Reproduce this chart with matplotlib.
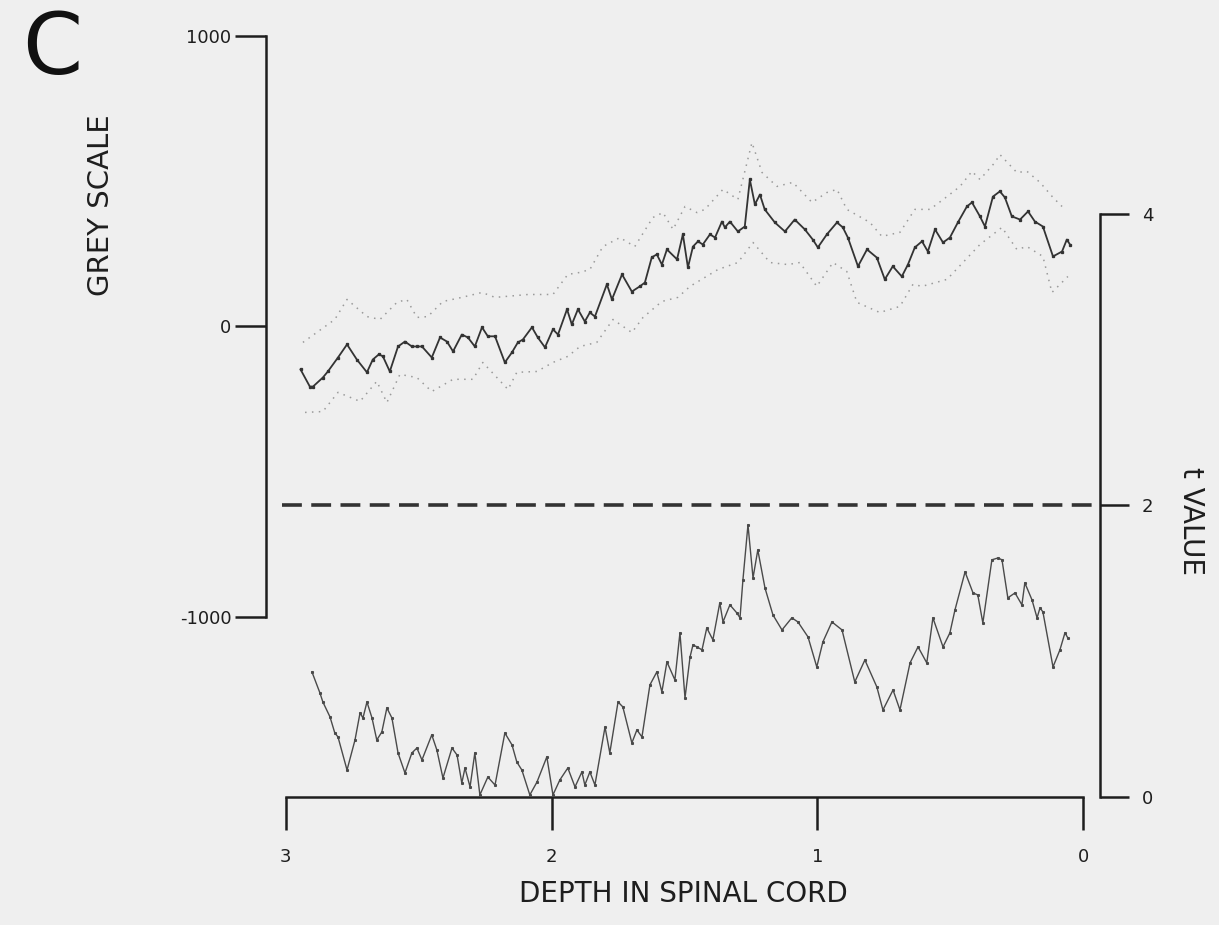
import matplotlib
matplotlib.use("Agg")
import matplotlib.pyplot as plt

plt.rcParams['axes.unicode_minus'] = False

# mean grey scale profile along the cord (left axis)
grey_depth = [2.945, 2.910, 2.898, 2.861, 2.842, 2.804, 2.770, 2.733, 2.695, 2.673,
              2.650, 2.635, 2.609, 2.578, 2.552, 2.526, 2.507, 2.488, 2.451, 2.420,
              2.394, 2.371, 2.338, 2.315, 2.289, 2.262, 2.240, 2.213, 2.176, 2.149,
              2.127, 2.108, 2.074, 2.052, 2.025, 1.995, 1.976, 1.942, 1.924, 1.901,
              1.875, 1.856, 1.837, 1.792, 1.773, 1.735, 1.698, 1.668, 1.649, 1.623,
              1.604, 1.585, 1.566, 1.528, 1.506, 1.487, 1.468, 1.449, 1.431, 1.404,
              1.385, 1.359, 1.348, 1.329, 1.299, 1.273, 1.254, 1.235, 1.216, 1.198,
              1.160, 1.122, 1.085, 1.047, 1.017, 0.998, 0.964, 0.926, 0.904, 0.885,
              0.847, 0.813, 0.776, 0.746, 0.716, 0.682, 0.659, 0.633, 0.606, 0.584,
              0.557, 0.527, 0.501, 0.471, 0.437, 0.418, 0.388, 0.369, 0.339, 0.313,
              0.294, 0.268, 0.237, 0.207, 0.181, 0.151, 0.113, 0.079, 0.061, 0.049]
grey_mean = [-148, -207, -207, -176, -155, -107, -62, -114, -158, -114,
             -96, -103, -155, -69, -52, -69, -69, -69, -107, -38,
             -52, -86, -28, -38, -69, -3, -34, -34, -124, -89,
             -55, -45, -3, -38, -72, -10, -28, 59, 7, 59,
             17, 48, 34, 145, 93, 179, 120, 138, 151, 238,
             248, 213, 265, 231, 317, 203, 275, 293, 282, 317,
             306, 361, 341, 361, 327, 344, 506, 420, 454, 403,
             358, 327, 368, 334, 299, 272, 317, 358, 341, 306,
             207, 265, 237, 162, 207, 172, 213, 272, 293, 258,
             334, 289, 306, 358, 413, 427, 379, 344, 447, 465,
             444, 379, 368, 396, 361, 344, 241, 258, 299, 282]

# upper / lower error envelope (dotted)
upper_depth = [2.936, 2.816, 2.770, 2.695, 2.646, 2.582, 2.545, 2.507, 2.466, 2.409,
               2.338, 2.262, 2.213, 2.089, 1.995, 1.939, 1.893, 1.856, 1.807, 1.743,
               1.687, 1.619, 1.581, 1.543, 1.498, 1.453, 1.423, 1.355, 1.299, 1.246,
               1.208, 1.152, 1.092, 1.020, 0.964, 0.926, 0.889, 0.802, 0.757, 0.689,
               0.633, 0.576, 0.512, 0.463, 0.418, 0.388, 0.332, 0.313, 0.249, 0.211,
               0.162, 0.113, 0.079]
upper_grey = [-55, 24, 93, 34, 24, 83, 93, 31, 34, 86,
              100, 117, 100, 110, 110, 179, 186, 196, 275, 306,
              275, 375, 392, 334, 413, 392, 403, 472, 437, 633,
              530, 482, 496, 427, 461, 472, 403, 358, 310, 324,
              403, 403, 447, 482, 534, 506, 564, 592, 530, 534,
              496, 444, 413]
lower_depth = [2.928, 2.861, 2.804, 2.721, 2.658, 2.620, 2.571, 2.507, 2.451, 2.371,
               2.296, 2.259, 2.164, 2.131, 2.055, 1.995, 1.939, 1.893, 1.830, 1.769,
               1.698, 1.656, 1.585, 1.525, 1.479, 1.374, 1.299, 1.242, 1.178, 1.111,
               1.066, 1.002, 0.941, 0.889, 0.851, 0.765, 0.689, 0.640, 0.606, 0.512,
               0.388, 0.305, 0.249, 0.211, 0.151, 0.117, 0.057]
lower_grey = [-296, -293, -227, -258, -189, -262, -165, -176, -224, -182,
              -182, -124, -217, -158, -155, -124, -103, -69, -55, 24,
              -21, 31, 86, 100, 138, 196, 220, 289, 220, 213,
              220, 138, 220, 189, 83, 48, 69, 145, 138, 162,
              282, 341, 265, 275, 241, 117, 172]

# t value profile (right axis)
t_depth = [2.902, 2.872, 2.861, 2.834, 2.816, 2.804, 2.770, 2.740, 2.721, 2.710,
           2.695, 2.676, 2.658, 2.639, 2.620, 2.601, 2.578, 2.552, 2.526, 2.507,
           2.488, 2.451, 2.432, 2.409, 2.375, 2.356, 2.338, 2.326, 2.307, 2.289,
           2.270, 2.240, 2.213, 2.176, 2.149, 2.131, 2.112, 2.082, 2.055, 2.018,
           1.995, 1.969, 1.939, 1.912, 1.886, 1.875, 1.856, 1.837, 1.799, 1.781,
           1.750, 1.732, 1.698, 1.679, 1.660, 1.630, 1.604, 1.585, 1.566, 1.536,
           1.517, 1.498, 1.479, 1.468, 1.453, 1.434, 1.416, 1.393, 1.367, 1.355,
           1.329, 1.303, 1.291, 1.280, 1.261, 1.242, 1.224, 1.197, 1.167, 1.133,
           1.096, 1.073, 1.035, 1.002, 0.979, 0.945, 0.907, 0.859, 0.821, 0.776,
           0.753, 0.715, 0.689, 0.651, 0.621, 0.588, 0.565, 0.527, 0.501, 0.482,
           0.444, 0.414, 0.396, 0.377, 0.343, 0.320, 0.305, 0.283, 0.256, 0.230,
           0.219, 0.192, 0.173, 0.162, 0.151, 0.113, 0.087, 0.068, 0.057]
t_value = [0.858, 0.714, 0.652, 0.549, 0.439, 0.412, 0.185, 0.391, 0.577, 0.542,
           0.652, 0.542, 0.391, 0.446, 0.611, 0.542, 0.302, 0.165, 0.302, 0.336,
           0.254, 0.426, 0.323, 0.130, 0.336, 0.288, 0.096, 0.199, 0.069, 0.302,
           0.014, 0.137, 0.082, 0.439, 0.357, 0.240, 0.185, 0.014, 0.103, 0.275,
           0.014, 0.117, 0.199, 0.069, 0.172, 0.082, 0.172, 0.082, 0.480, 0.302,
           0.652, 0.618, 0.371, 0.460, 0.412, 0.769, 0.858, 0.721, 0.927, 0.803,
           1.126, 0.679, 0.961, 1.043, 1.030, 1.009, 1.160, 1.078, 1.332, 1.201,
           1.318, 1.263, 1.229, 1.489, 1.867, 1.503, 1.695, 1.434, 1.249, 1.146,
           1.229, 1.201, 1.098, 0.892, 1.064, 1.201, 1.146, 0.789, 0.940, 0.755,
           0.597, 0.734, 0.597, 0.920, 1.030, 0.920, 1.229, 1.030, 1.126, 1.283,
           1.544, 1.400, 1.386, 1.194, 1.627, 1.640, 1.627, 1.366, 1.400, 1.318,
           1.469, 1.352, 1.229, 1.297, 1.270, 0.892, 1.009, 1.126, 1.091]

t_threshold = 2
depth_ticks = [3, 2, 1, 0]
grey_ticks = [1000, 0, -1000]
t_ticks = [4, 2, 0]

ink = '#1e1e1e'
bg = '#efefef'

fig = plt.figure(figsize=(12.19, 9.25), dpi=100, facecolor=bg)
ax = fig.add_axes([0.2182, 0.1384, 0.6842, 0.8227])
ax.set_facecolor(bg)
ax2 = ax.twinx()

ax.set_xlim(3.075, -0.064)
ax.set_ylim(-1620, 1000)
ax2.set_ylim(0, 5.221)

# grey scale curve with dotted envelope
ax.plot(upper_depth, upper_grey, linestyle=(0, (1, 3.5)), color='#9a9a9a', lw=1.1)
ax.plot(lower_depth, lower_grey, linestyle=(0, (1, 3.5)), color='#9a9a9a', lw=1.1)
ax.plot(grey_depth, grey_mean, color='#333333', lw=1.3, marker='s', markersize=1.4)

# t value curve and significance level
ax2.plot(t_depth, t_value, color='#4a4a4a', lw=1.0, marker='s', markersize=1.2)
ax2.axhline(t_threshold, xmin=0.019, xmax=0.994, color='#333333', lw=2.6,
            dashes=(5.5, 2.6))

# spines
for a in (ax, ax2):
    a.spines['top'].set_visible(False)
ax.spines['right'].set_visible(False)
ax2.spines['left'].set_visible(False)
ax2.spines['bottom'].set_visible(False)
ax.spines['left'].set_bounds(-1000, 1000)
ax.spines['bottom'].set_bounds(3, 0)
ax2.spines['right'].set_bounds(0, 4)
for sp in (ax.spines['left'], ax.spines['bottom'], ax2.spines['right']):
    sp.set_linewidth(1.8)
    sp.set_color(ink)

ax.set_xticks(depth_ticks)
ax.set_xticklabels([str(v) for v in depth_ticks])
ax.set_yticks(grey_ticks)
ax.set_yticklabels([str(v) for v in grey_ticks])
ax2.set_yticks(t_ticks)
ax2.set_yticklabels([str(v) for v in t_ticks])

ax.tick_params(axis='x', direction='out', length=24, width=1.8, pad=13,
               labelsize=13, colors=ink)
ax.tick_params(axis='y', direction='out', length=22, width=1.8, pad=3,
               labelsize=13, colors=ink)
ax2.tick_params(axis='y', direction='out', length=21, width=1.8, pad=9,
                labelsize=13, colors=ink)

ax.set_xlabel('DEPTH IN SPINAL CORD', fontsize=20, color=ink, labelpad=10)
fig.text(0.083, 0.778, 'GREY SCALE', rotation=90, ha='center', va='center',
         fontsize=21, color=ink)
fig.text(0.977, 0.437, 't VALUE', rotation=270, ha='center', va='center',
         fontsize=20, color=ink)
fig.text(0.018, 0.99, 'C', ha='left', va='top', fontsize=62, color='#111111')

fig.savefig('out.png', dpi=100, facecolor=bg)
